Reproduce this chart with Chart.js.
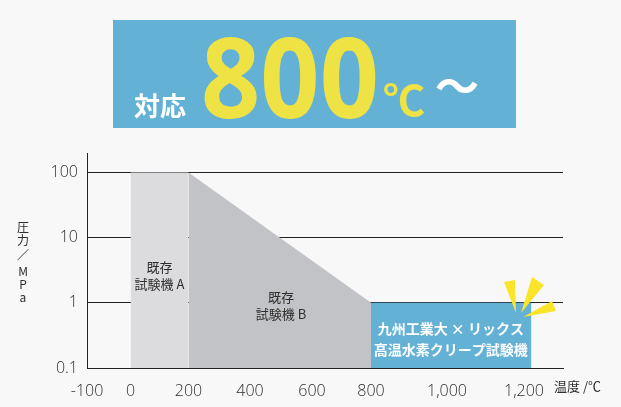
<!DOCTYPE html>
<html>
<head>
<meta charset="utf-8">
<script src="https://cdn.jsdelivr.net/npm/chart.js@4/dist/chart.umd.min.js"></script>
<style>
  html, body { margin: 0; padding: 0; background: #f8f8f8; }
  #wrap { position: relative; width: 621px; height: 407px; }
</style>
</head>
<body>
<div id="wrap"><canvas id="creepChart"></canvas></div>
<script>
// x ticks (temperature, °C)
const xTicks = [-100, 0, 200, 400, 600, 800, 1000, 1200];
const xTickLabels = ['-100', '0', '200', '400', '600', '800', '1,000', '1,200'];
// y ticks (pressure, MPa)
const yTicks = [0.1, 1, 10, 100];

// existing machine A
const tempA = [0, 200];
const pressA = [100, 100];
// existing machine B
const tempB = [200, 800];
const pressB = [100, 1];
// new hydrogen creep tester
const tempNew = [800, 1220];
const pressNew = [1, 1];

// the original axis is not evenly spaced, so the x scale is piecewise linear
const knotTemps = [-100, 0, 200, 400, 600, 800, 1000, 1200, 1305];
const knotPx = [87, 130.5, 188.5, 250, 312, 371, 447, 524, 563];
const knotFracs = knotPx.map(p => (p - 87) / 476);

function interp(v, xs, ys) {
  if (v <= xs[0]) return ys[0] + (v - xs[0]) * (ys[1] - ys[0]) / (xs[1] - xs[0]);
  for (let i = 1; i < xs.length; i++) {
    if (v <= xs[i]) {
      return ys[i - 1] + (v - xs[i - 1]) * (ys[i] - ys[i - 1]) / (xs[i] - xs[i - 1]);
    }
  }
  const n = xs.length - 1;
  return ys[n] + (v - xs[n]) * (ys[n] - ys[n - 1]) / (xs[n] - xs[n - 1]);
}

const BaseLinear = Chart.LinearScale || Chart.registry.getScale('linear');
class BentScale extends BaseLinear {
  getPixelForValue(value) {
    if (value === null || value === undefined) return NaN;
    return this.getPixelForDecimal(interp(value, knotTemps, knotFracs));
  }
  getValueForPixel(pixel) {
    return interp(this.getDecimalForPixel(pixel), knotFracs, knotTemps);
  }
}
BentScale.id = 'bent';
BentScale.defaults = BaseLinear.defaults;
Chart.register(BentScale);

const pts = (xs, ys) => xs.map((x, i) => ({ x: x, y: ys[i] }));

const txt = '#2e2e2e';
const cjk = '"Noto Sans CJK JP", "Noto Sans", sans-serif';
const tickFont = { family: '"Open Sans", "Noto Sans", sans-serif', size: 16, weight: '300' };

const decor = {
  id: 'decor',
  afterDatasetsDraw(chart) {
    const ctx = chart.ctx;
    const x = chart.scales.x;
    ctx.save();
    ctx.textAlign = 'center';
    ctx.textBaseline = 'middle';

    // region captions
    ctx.fillStyle = txt;
    ctx.font = '13px ' + cjk;
    const ax = x.getPixelForValue((tempA[0] + tempA[1]) / 2);
    ctx.fillText('既存', ax, 267);
    ctx.fillText('試験機 A', ax, 284);
    const bx = x.getPixelForValue((tempB[0] + tempB[1]) / 2);
    ctx.fillText('既存', bx, 297);
    ctx.fillText('試験機 B', bx, 314);

    ctx.fillStyle = '#ffffff';
    ctx.font = 'bold 14px ' + cjk;
    const nx = x.getPixelForValue((tempNew[0] + tempNew[1]) / 2);
    ctx.fillText('九州工業大 × リックス', nx, 329);
    ctx.fillText('高温水素クリープ試験機', nx, 350);

    // sparkle
    ctx.fillStyle = '#fce42a';
    const tris = [
      [[504, 282], [515, 280], [516, 313]],
      [[532, 277], [544, 285], [521, 313]],
      [[552, 301], [556, 311], [523, 317]]
    ];
    tris.forEach(t => {
      ctx.beginPath();
      ctx.moveTo(t[0][0], t[0][1]);
      ctx.lineTo(t[1][0], t[1][1]);
      ctx.lineTo(t[2][0], t[2][1]);
      ctx.closePath();
      ctx.fill();
    });
    ctx.restore();
  },
  afterDraw(chart) {
    const ctx = chart.ctx;
    ctx.save();
    // axis titles
    ctx.fillStyle = txt;
    ctx.textAlign = 'center';
    ctx.textBaseline = 'middle';
    ctx.font = '12px ' + cjk;
    const yt = ['圧', '力', '／', 'M', 'P', 'a'];
    const ys = [227, 240, 255, 271, 284, 297];
    yt.forEach((c, i) => ctx.fillText(c, 23, ys[i]));
    ctx.font = '13px ' + cjk;
    ctx.textAlign = 'left';
    ctx.fillText('温度 /℃', 554, 386);

    // banner
    ctx.fillStyle = '#64b1d6';
    ctx.fillRect(113, 20, 403, 108);
    ctx.textAlign = 'left';
    ctx.textBaseline = 'alphabetic';
    ctx.fillStyle = '#ffffff';
    ctx.font = 'bold 26px ' + cjk;
    ctx.fillText('対応', 134, 116);
    ctx.fillStyle = '#eee244';
    ctx.font = 'bold 112px "Noto Sans", sans-serif';
    ctx.fillText('800', 201, 118, 178);
    ctx.font = 'bold 42px ' + cjk;
    ctx.fillText('℃', 383, 116);
    ctx.fillStyle = '#ffffff';
    ctx.font = 'bold 44px ' + cjk;
    ctx.fillText('〜', 435, 103);
    ctx.restore();
  }
};

const ctx = document.getElementById('creepChart').getContext('2d');

new Chart(ctx, {
  type: 'line',
  data: {
    datasets: [
      {
        data: pts(tempA, pressA),
        backgroundColor: '#dcdcdf',
        borderColor: 'rgba(0,0,0,0)',
        borderWidth: 0,
        pointRadius: 0,
        fill: 'start'
      },
      {
        data: pts(tempB, pressB),
        backgroundColor: '#c2c3c6',
        borderColor: 'rgba(0,0,0,0)',
        borderWidth: 0,
        pointRadius: 0,
        fill: 'start'
      },
      {
        data: pts(tempNew, pressNew),
        backgroundColor: '#64b1d6',
        borderColor: 'rgba(0,0,0,0)',
        borderWidth: 0,
        pointRadius: 0,
        fill: 'start'
      }
    ]
  },
  options: {
    responsive: true,
    maintainAspectRatio: false,
    animation: false,
    layout: { padding: { top: 153, right: 58, left: 0, bottom: 0 } },
    plugins: {
      legend: { display: false },
      tooltip: { enabled: false }
    },
    scales: {
      x: {
        type: 'bent',
        min: -100,
        max: 1305,
        afterFit(scale) { scale.height = 39; },
        afterBuildTicks(scale) { scale.ticks = xTicks.map(v => ({ value: v })); },
        grid: { display: false },
        border: { display: true, color: '#222' },
        ticks: {
          autoSkip: false,
          maxRotation: 0,
          padding: 6,
          color: txt,
          font: tickFont,
          callback: v => xTickLabels[xTicks.indexOf(v)]
        }
      },
      y: {
        type: 'logarithmic',
        min: 0.1,
        max: 200,
        afterFit(scale) { scale.width = 87; },
        afterBuildTicks(scale) { scale.ticks = yTicks.map(v => ({ value: v })); },
        grid: { color: '#222', lineWidth: 1, drawTicks: false },
        border: { display: true, color: '#222' },
        ticks: {
          padding: 9,
          color: txt,
          font: tickFont,
          callback: v => String(v)
        }
      }
    }
  },
  plugins: [decor]
});
</script>
</body>
</html>
